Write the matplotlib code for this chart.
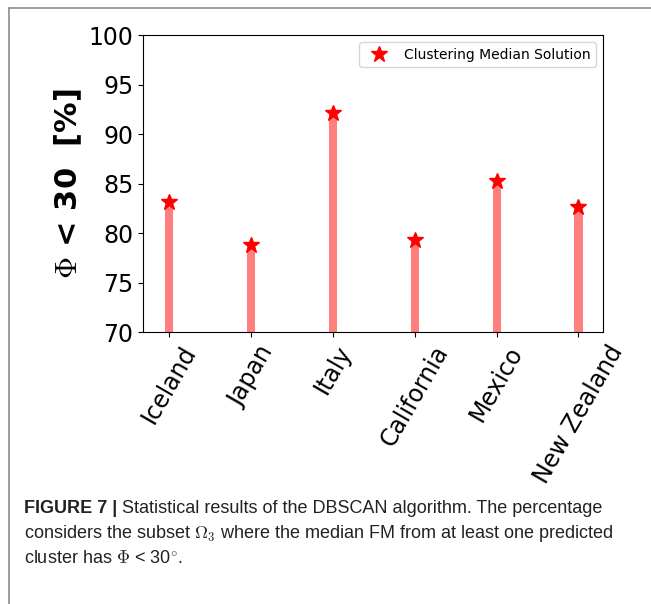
import matplotlib
matplotlib.use('Agg')
import matplotlib.pyplot as plt
from matplotlib.lines import Line2D
import numpy as np

regions = ['Iceland', 'Japan', 'Italy', 'California', 'Mexico', 'New Zealand']
percent = [83.1, 78.8, 92.1, 79.3, 85.3, 82.6]
y_ticks = [70, 75, 80, 85, 90, 95, 100]

plt.rcParams['mathtext.fontset'] = 'cm'

fig = plt.figure(figsize=(6.51, 6.04), dpi=100)
ax = fig.add_axes([0.2197, 0.4503, 0.7066, 0.4917])

x = np.arange(len(regions))
ax.bar(x, [p - 70 for p in percent], bottom=70, width=0.1, color='red', alpha=0.5)
ax.plot(x, percent, '*', color='red', markersize=12, label='Clustering Median Solution')

ax.set_xlim(-0.32, 5.3)
ax.set_ylim(70, 100)
ax.set_yticks(y_ticks)
ax.set_xticks(x)
ax.set_xticklabels(regions, rotation=60, fontsize=17)
ax.tick_params(axis='y', labelsize=17)
ax.legend(loc='upper right', fontsize=10)

fig.text(68 / 651, 1 - 184 / 604, r'$\Phi$ < 30  [%]', rotation=90,
         ha='center', va='center', fontsize=22, fontweight='bold')

# outer frame of the figure panel
fig.add_artist(Line2D([9 / 651, 1], [1 - 8 / 604, 1 - 8 / 604], color='#8c8c8c', lw=1.2))
fig.add_artist(Line2D([9 / 651, 9 / 651], [0, 1 - 8 / 604], color='#8c8c8c', lw=1.2))

cap = {'fontsize': 13, 'family': 'Liberation Sans', 'color': '#222222'}
t1 = fig.text(24 / 651, 1 - 513 / 604, 'FIGURE 7 |', va='baseline',
              fontweight='bold', **cap)
ax.annotate(' Statistical results of the DBSCAN algorithm. The percentage',
            xy=(1, 0), xycoords=t1, va='bottom', annotation_clip=False, **cap)
fig.text(24 / 651, 1 - 538 / 604, r'considers the subset $\Omega_3$ where the median FM from at least one predicted',
         va='baseline', **cap)
fig.text(24 / 651, 1 - 563 / 604, r'cluster has $\Phi$ < 30$^{\circ}$.', va='baseline', **cap)

fig.savefig('out.png', dpi=100)
